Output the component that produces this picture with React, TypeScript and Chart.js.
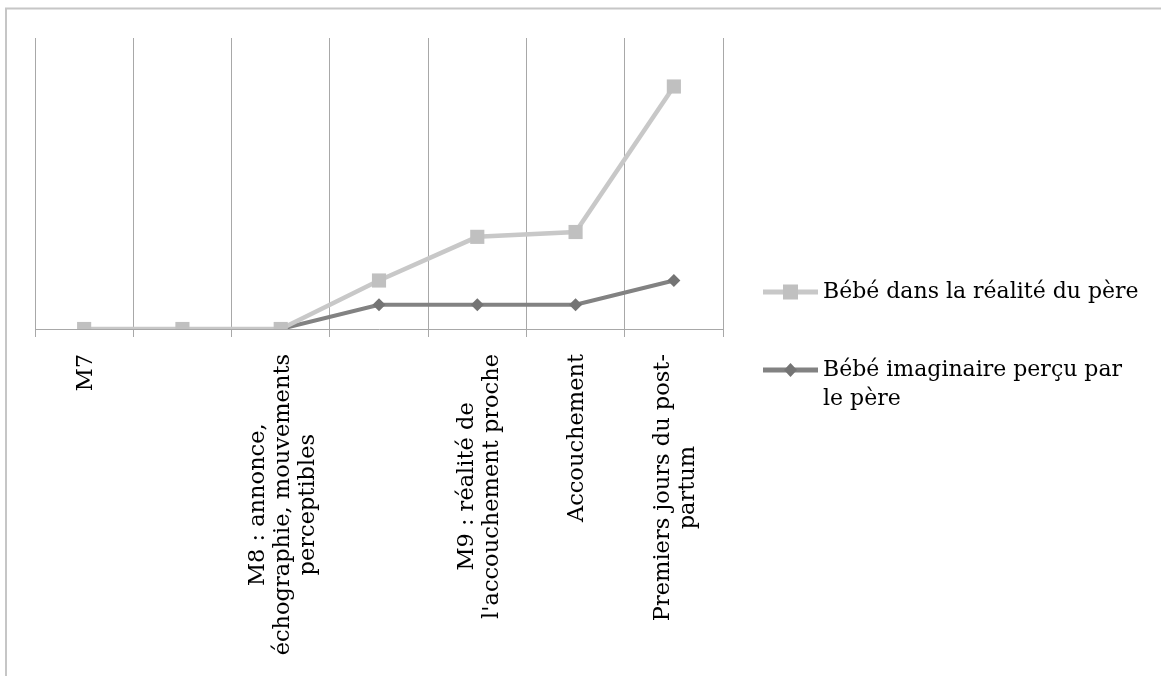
import React, { useEffect, useRef } from "react";
import { Chart, registerables } from "chart.js";

Chart.register(...registerables);

// ---- data ----
const categories: string[][] = [
  ["M7"],
  [""],
  ["M8 : annonce,", "échographie, mouvements", "perceptibles"],
  [""],
  ["M9 : réalité de", "l'accouchement proche"],
  ["Accouchement"],
  ["Premiers jours du post-", "partum"],
];
const reelValues = [0, 0, 0, 2, 3.8, 4, 10];
const imaginaireValues = [0, 0, 0, 1, 1, 1, 2];
const seriesNames = ["Bébé dans la réalité du père", "Bébé imaginaire perçu par le père"];
const legendLines: string[][] = [["Bébé dans la réalité du père"], ["Bébé imaginaire perçu par", "le père"]];
const yMax = 12;

// ---- style ----
const FONT = '"DejaVu Serif", serif';
const AXIS_FONT_SIZE = 22.5;
const AXIS_LH = 25;
const LEGEND_FONT_SIZE = 22;
const LIGHT_LINE = "#c8c8c8";
const LIGHT_MARK = "#c0c0c0";
const DARK_LINE = "#828282";
const DARK_MARK = "#747474";
const GRID = "#a8a8a8";

const framePlugin = {
  id: "frame",
  beforeDraw(chart: any) {
    const { ctx, width, height } = chart;
    ctx.save();
    ctx.fillStyle = "#ffffff";
    ctx.fillRect(0, 0, width, height);
    ctx.strokeStyle = "#c6c6c6";
    ctx.lineWidth = 2;
    ctx.beginPath();
    ctx.moveTo(width, 8.5);
    ctx.lineTo(6, 8.5);
    ctx.lineTo(6, height);
    ctx.stroke();
    ctx.restore();
  },
};

const axisLabelPlugin = {
  id: "axisLabels",
  afterDraw(chart: any) {
    const { ctx } = chart;
    const xs = chart.scales.x;
    ctx.save();
    ctx.font = `${AXIS_FONT_SIZE}px ${FONT}`;
    ctx.fillStyle = "#000000";
    (chart.data.labels as string[][]).forEach((lab, i) => {
      const lines = lab;
      const px = xs.getPixelForValue(i) + 2;
      const maxW = Math.max(...lines.map((l) => ctx.measureText(l).width));
      ctx.save();
      ctx.translate(px, chart.chartArea.bottom + 25);
      ctx.rotate(-Math.PI / 2);
      ctx.textAlign = "center";
      ctx.textBaseline = "middle";
      lines.forEach((l, k) => {
        ctx.fillText(l, -maxW / 2, (k - (lines.length - 1) / 2) * AXIS_LH);
      });
      ctx.restore();
    });
    ctx.restore();
  },
};

const legendPlugin = {
  id: "customLegend",
  afterDraw(chart: any) {
    const { ctx } = chart;
    const right = chart.chartArea.right;
    const rows = [292, 370];
    ctx.save();
    ctx.font = `${LEGEND_FONT_SIZE}px ${FONT}`;
    ctx.textAlign = "left";
    ctx.textBaseline = "middle";
    chart.data.datasets.forEach((ds: any, i: number) => {
      const y = rows[i];
      const x0 = right + 40;
      const x1 = right + 95;
      const cx = (x0 + x1) / 2;
      ctx.strokeStyle = ds.borderColor;
      ctx.lineWidth = 5;
      ctx.beginPath();
      ctx.moveTo(x0, y);
      ctx.lineTo(x1, y);
      ctx.stroke();
      ctx.fillStyle = ds.pointBackgroundColor;
      if (ds.pointStyle === "rect") {
        ctx.fillRect(cx - 7.5, y - 7.5, 15, 15);
      } else {
        ctx.beginPath();
        ctx.moveTo(cx, y - 7);
        ctx.lineTo(cx + 6.5, y);
        ctx.lineTo(cx, y + 7);
        ctx.lineTo(cx - 6.5, y);
        ctx.closePath();
        ctx.fill();
      }
      ctx.fillStyle = "#000000";
      legendLines[i].forEach((t, k) => {
        ctx.fillText(t, right + 100, y + k * 29);
      });
    });
    ctx.restore();
  },
};

export default function App() {
  const canvasRef = useRef<HTMLCanvasElement | null>(null);

  useEffect(() => {
    if (!canvasRef.current) return;
    const chart = new Chart(canvasRef.current, {
      type: "line",
      data: {
        labels: categories,
        datasets: [
          {
            label: seriesNames[0],
            data: reelValues,
            borderColor: LIGHT_LINE,
            borderWidth: 4.5,
            pointStyle: "rect",
            pointRadius: 10,
            pointBorderWidth: 0,
            pointBackgroundColor: LIGHT_MARK,
            tension: 0,
          },
          {
            label: seriesNames[1],
            data: imaginaireValues,
            borderColor: DARK_LINE,
            borderWidth: 4,
            pointStyle: "rectRot",
            pointRadius: 6.5,
            pointBorderWidth: 0,
            pointBackgroundColor: DARK_MARK,
            tension: 0,
          },
        ],
      },
      options: {
        animation: false,
        responsive: false,
        devicePixelRatio: 1,
        layout: { padding: { left: 35, top: 38, right: 438, bottom: 0 }, autoPadding: false },
        plugins: { legend: { display: false }, tooltip: { enabled: false } },
        scales: {
          x: {
            type: "category",
            offset: true,
            grid: { offset: true, color: GRID, lineWidth: 1, tickLength: 8, drawTicks: true },
            border: { display: true, color: GRID, width: 1 },
            ticks: { display: false },
            afterFit(scale: any) {
              scale.height = 347;
            },
          },
          y: {
            display: false,
            min: 0,
            max: yMax,
          },
        },
      },
      plugins: [framePlugin, axisLabelPlugin, legendPlugin],
    });
    return () => chart.destroy();
  }, []);

  return (
    <div style={{ position: "absolute", left: 0, top: 0, width: 1161, height: 676 }}>
      <canvas ref={canvasRef} width={1161} height={676} style={{ width: 1161, height: 676, display: "block" }} />
    </div>
  );
}
